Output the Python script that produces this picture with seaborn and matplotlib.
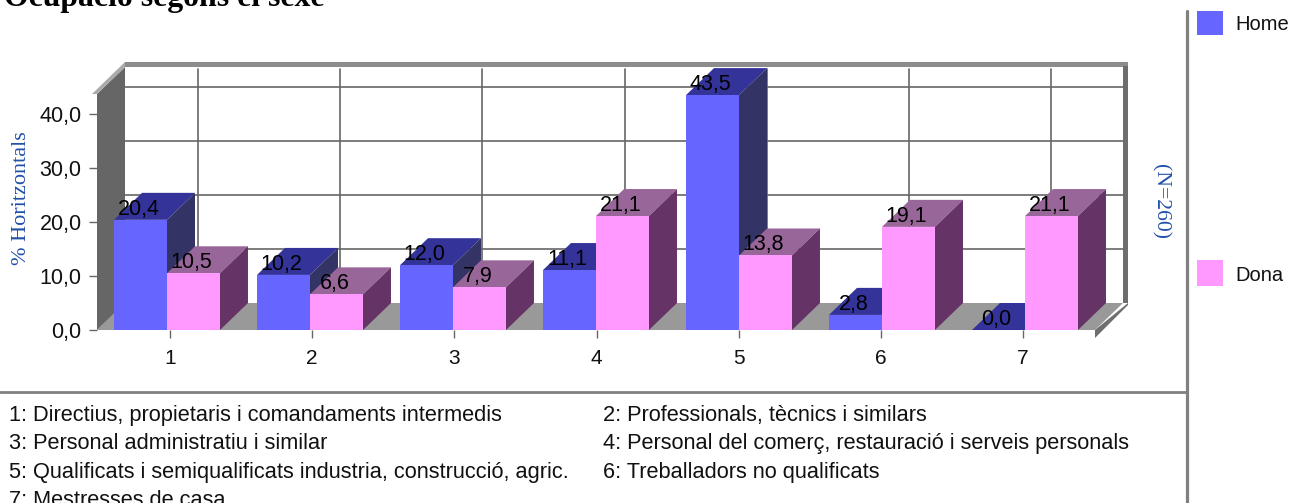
import numpy as np
import pandas as pd
import matplotlib
matplotlib.use('Agg')
import matplotlib.pyplot as plt
from matplotlib.patches import Polygon, Rectangle
from matplotlib.lines import Line2D
import seaborn as sns

categories = ['1', '2', '3', '4', '5', '6', '7']
home = [20.4, 10.2, 12.0, 11.1, 43.5, 2.8, 0.0]
dona = [10.5, 6.6, 7.9, 21.1, 13.8, 19.1, 21.1]
series_names = ['Home', 'Dona']
y_ticks = [0, 10, 20, 30, 40]
y_labels = ['0,0', '10,0', '20,0', '30,0', '40,0']
notes_left = ['1: Directius, propietaris i comandaments intermedis',
              '3: Personal administratiu i similar',
              '5: Qualificats i semiqualificats industria, construcció, agric.',
              '7: Mestresses de casa']
notes_right = ['2: Professionals, tècnics i similars',
               '4: Personal del comerç, restauració i serveis personals',
               '6: Treballadors no qualificats']

W, H = 1291, 503
BLUE = ['#6666FF', '#333399', '#333366']
PINK = ['#FF99FF', '#996699', '#663366']
SERIF = 'Liberation Serif'
SANS = 'Liberation Sans'
TEXT_BLUE = '#2250A8'


def fx(x):
    return x / W


def fy(y):
    return 1 - y / H


sns.set_theme(style='white')
plt.rcParams['font.family'] = [SANS, 'DejaVu Sans']

df = pd.DataFrame({
    'cat': categories * 2,
    'sexe': [series_names[0]] * 7 + [series_names[1]] * 7,
    'pct': home + dona,
})

fig = plt.figure(figsize=(W / 100, H / 100), dpi=100, facecolor='white')

# front plane of the 3D box, in pixels: x 97-1095, y 330-94
ax = fig.add_axes([fx(97), fy(330), (1095 - 97) / W, (330 - 94) / H])
ax.patch.set_visible(False)
sns.barplot(data=df, x='cat', y='pct', hue='sexe', palette=[BLUE[0], PINK[0]],
            width=0.741, gap=0, saturation=1, linewidth=0, legend=False, ax=ax)

step = 143.0
unit = 5.4
xl, xr = (97 - 167) / step, (1095 - 167) / step
ytop = 236 / unit
ax.set_xlim(xl, xr)
ax.set_ylim(0, ytop)
dx, dy = 28 / step, 27 / unit
bx, by = 5 / step, 5 / unit

# walls and floor
ax.add_patch(Polygon([(xl, 0), (xr, 0), (xr + dx, dy), (xl + dx, dy)],
                     fc='#999999', ec='none', zorder=1, clip_on=False))
ax.add_patch(Polygon([(xl, 0), (xl + dx, dy), (xl + dx, ytop + dy), (xl, ytop)],
                     fc='#666666', ec='none', zorder=1, clip_on=False))
ax.add_patch(Polygon([(xl - 5 / step, ytop), (xl + dx, ytop + dy + by), (xl + dx, ytop + dy), (xl, ytop)],
                     fc='#AAAAAA', ec='none', zorder=1, clip_on=False))
ax.add_patch(Rectangle((xl + dx, ytop + dy), xr - xl + bx, by, fc='#8C8C8C', ec='none', zorder=1, clip_on=False))
ax.add_patch(Rectangle((xr + dx, dy), bx, ytop + by * 0.2, fc='#6E6E6E', ec='none', zorder=1, clip_on=False))
ax.add_patch(Polygon([(xr, 0), (xr, -8 / unit), (xr + dx + bx, dy - 2 / unit), (xr + dx + bx, dy)],
                     fc='#6E6E6E', ec='none', zorder=1, clip_on=False))

# back wall grid
tick_x = np.linspace(3 / step, 856 / step, 7)
for t in y_ticks[1:]:
    ax.add_line(Line2D([xl + dx, xr + dx], [t + dy, t + dy], color='#666666', lw=1.2, zorder=2, clip_on=False))
for t in tick_x:
    ax.add_line(Line2D([t + dx, t + dx], [dy, ytop + dy - 2 / unit], color='#666666', lw=1.2, zorder=2, clip_on=False))

# top and side faces built from the bars seaborn drew
z = 3
labels = []
for g in range(7):
    for cont, cols in zip(ax.containers, [BLUE, PINK]):
        p = cont[g]
        x0, w, h = p.get_x(), p.get_width(), p.get_height()
        ax.add_patch(Polygon([(x0, h), (x0 + dx, h + dy), (x0 + w + dx, h + dy), (x0 + w, h)],
                             fc=cols[1], ec='none', zorder=z, clip_on=False))
        if h > 0:
            ax.add_patch(Polygon([(x0 + w, 0), (x0 + w + dx, dy), (x0 + w + dx, h + dy), (x0 + w, h)],
                                 fc=cols[2], ec='none', zorder=z, clip_on=False))
        p.set_zorder(z + 0.5)
        p.set_clip_on(False)
        z += 1
        labels.append((x0 + w / 2, h))

for (x, h) in labels:
    ax.annotate(f'{h:.1f}'.replace('.', ','), (x, h), xytext=(-1.5, 0), textcoords='offset points',
                ha='center', va='bottom', fontsize=15.5, color='black', zorder=50, annotation_clip=False)

# axes
ax.set_xlabel('')
ax.set_ylabel('')
sns.despine(ax=ax, left=True, bottom=True, top=True, right=True)
ax.set_xticks(tick_x)
ax.set_xticklabels(categories)
ax.set_yticks(y_ticks)
ax.set_yticklabels(y_labels)
ax.tick_params(axis='x', length=6, width=1, color='#666666', pad=8, labelsize=15, labelcolor='#111111', bottom=True)
ax.tick_params(axis='y', length=6, width=1, color='#666666', pad=5, labelsize=15.5, labelcolor='#111111', left=True)

# outer layout
fig.add_artist(Line2D([fx(1186.5), fx(1186.5)], [fy(11), 0], color='#808080', lw=2.3))
fig.add_artist(Line2D([0, fx(1186)], [fy(392), fy(392)], color='#808080', lw=2.0))

fig.text(fx(4), fy(6), 'Ocupació segons el sexe', family=SERIF, fontweight='bold',
         fontsize=22.9, color='black', va='baseline')
fig.text(fx(22), fy(198), '% Horitzontals', family=SERIF, fontsize=16, color=TEXT_BLUE,
         rotation=90, ha='center', va='center')
fig.text(fx(1160), fy(201), '(N=260)', family=SERIF, fontsize=15.6, color=TEXT_BLUE,
         rotation=270, ha='center', va='center')

for name, col, y0, y1 in [(series_names[0], BLUE[0], 11, 35), (series_names[1], PINK[0], 260, 286)]:
    fig.add_artist(Rectangle((fx(1197), fy(y1)), 26 / W, (y1 - y0) / H, fc=col, ec='none',
                             transform=fig.transFigure))
    fig.text(fx(1235), fy(y1 - 5), name, fontsize=14.5, color='#111111', va='baseline')

for i, s in enumerate(notes_left):
    fig.text(fx(9), fy(421 + 28.3 * i), s, fontsize=15.7, color='#111111', va='baseline')
for i, s in enumerate(notes_right):
    fig.text(fx(603), fy(421 + 28.3 * i), s, fontsize=15.7, color='#111111', va='baseline')

fig.savefig('out.png', dpi=100)
